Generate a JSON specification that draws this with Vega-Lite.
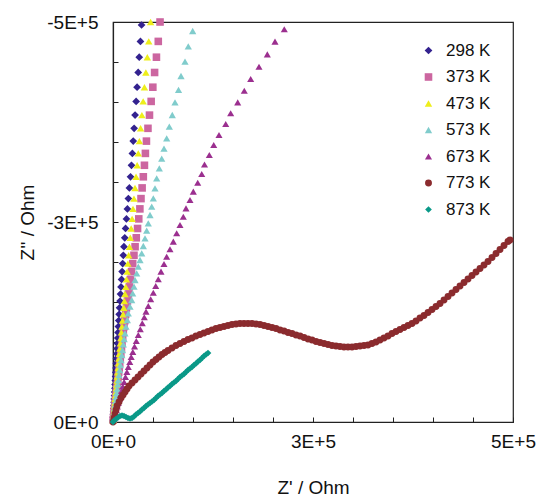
{
  "$schema": "https://vega.github.io/schema/vega-lite/v6.json",
  "width": 400,
  "height": 400,
  "autosize": {"type": "none"},
  "padding": {"left": 113, "top": 22, "right": 28, "bottom": 75},
  "background": "white",
  "config": {
    "view": {"stroke": "#222", "strokeWidth": 1.2},
    "font": "Liberation Sans"
  },
  "datasets": {
    "imp": [
      {"s":"298 K","x":35700,"y":-496250},{"s":"298 K","x":34300,"y":-475750},{"s":"298 K","x":32800,"y":-456000},{"s":"298 K","x":31500,"y":-436900},{"s":"298 K","x":30100,"y":-418500},{"s":"298 K","x":28900,"y":-400750},{"s":"298 K","x":27600,"y":-383600},{"s":"298 K","x":26400,"y":-367100},{"s":"298 K","x":25300,"y":-351100},{"s":"298 K","x":24200,"y":-335750},{"s":"298 K","x":23100,"y":-320900},{"s":"298 K","x":21900,"y":-306500},{"s":"298 K","x":20500,"y":-292600},{"s":"298 K","x":19200,"y":-279250},{"s":"298 K","x":18000,"y":-266400},{"s":"298 K","x":16800,"y":-253900},{"s":"298 K","x":15700,"y":-241900},{"s":"298 K","x":14700,"y":-230250},{"s":"298 K","x":13700,"y":-219100},{"s":"298 K","x":12900,"y":-208400},{"s":"298 K","x":12100,"y":-198000},{"s":"298 K","x":11400,"y":-188000},{"s":"298 K","x":10700,"y":-178250},{"s":"298 K","x":10000,"y":-168900},{"s":"298 K","x":9400,"y":-159900},{"s":"298 K","x":8800,"y":-151100},{"s":"298 K","x":8200,"y":-142750},{"s":"298 K","x":7700,"y":-134600},{"s":"298 K","x":7200,"y":-126750},{"s":"298 K","x":6700,"y":-119250},{"s":"298 K","x":6300,"y":-112000},{"s":"298 K","x":5900,"y":-105000},{"s":"298 K","x":5500,"y":-98250},{"s":"298 K","x":5100,"y":-91750},{"s":"298 K","x":4800,"y":-85400},{"s":"298 K","x":4400,"y":-79250},{"s":"298 K","x":4100,"y":-73400},{"s":"298 K","x":3800,"y":-67600},{"s":"298 K","x":3500,"y":-62100},{"s":"298 K","x":3200,"y":-56900},{"s":"298 K","x":2900,"y":-51750},{"s":"298 K","x":2600,"y":-46900},{"s":"298 K","x":2400,"y":-42100},{"s":"298 K","x":2100,"y":-37500},{"s":"298 K","x":1900,"y":-33100},{"s":"298 K","x":1600,"y":-28900},{"s":"298 K","x":1400,"y":-24750},{"s":"298 K","x":1200,"y":-20750},{"s":"298 K","x":950,"y":-16900},{"s":"298 K","x":730,"y":-13100},{"s":"298 K","x":530,"y":-9500},{"s":"298 K","x":340,"y":-6000},{"s":"298 K","x":150,"y":-2600},

      {"s":"373 K","x":58800,"y":-500000},{"s":"373 K","x":56600,"y":-475750},{"s":"373 K","x":54300,"y":-456000},{"s":"373 K","x":52000,"y":-436900},{"s":"373 K","x":49800,"y":-418500},{"s":"373 K","x":47700,"y":-400750},{"s":"373 K","x":45600,"y":-383600},{"s":"373 K","x":43700,"y":-367100},{"s":"373 K","x":41800,"y":-351100},{"s":"373 K","x":40500,"y":-335750},{"s":"373 K","x":39300,"y":-320900},{"s":"373 K","x":37900,"y":-306500},{"s":"373 K","x":36400,"y":-292600},{"s":"373 K","x":35000,"y":-279250},{"s":"373 K","x":33600,"y":-266400},{"s":"373 K","x":32200,"y":-253900},{"s":"373 K","x":30700,"y":-241900},{"s":"373 K","x":29100,"y":-230250},{"s":"373 K","x":27600,"y":-219100},{"s":"373 K","x":26200,"y":-208400},{"s":"373 K","x":24600,"y":-198000},{"s":"373 K","x":23200,"y":-188000},{"s":"373 K","x":21800,"y":-178250},{"s":"373 K","x":20400,"y":-168900},{"s":"373 K","x":19200,"y":-159900},{"s":"373 K","x":18000,"y":-151100},{"s":"373 K","x":16800,"y":-142750},{"s":"373 K","x":15800,"y":-134600},{"s":"373 K","x":14800,"y":-126750},{"s":"373 K","x":13800,"y":-119250},{"s":"373 K","x":12900,"y":-112000},{"s":"373 K","x":12100,"y":-105000},{"s":"373 K","x":11300,"y":-98250},{"s":"373 K","x":10600,"y":-91750},{"s":"373 K","x":9800,"y":-85400},{"s":"373 K","x":9100,"y":-79250},{"s":"373 K","x":8400,"y":-73400},{"s":"373 K","x":7800,"y":-67600},{"s":"373 K","x":7100,"y":-62100},{"s":"373 K","x":6500,"y":-56900},{"s":"373 K","x":6000,"y":-51750},{"s":"373 K","x":5400,"y":-46900},{"s":"373 K","x":4800,"y":-42100},{"s":"373 K","x":4300,"y":-37500},{"s":"373 K","x":3800,"y":-33100},{"s":"373 K","x":3300,"y":-28900},{"s":"373 K","x":2800,"y":-24750},{"s":"373 K","x":2400,"y":-20750},{"s":"373 K","x":1900,"y":-16900},{"s":"373 K","x":1500,"y":-13100},{"s":"373 K","x":1100,"y":-9500},{"s":"373 K","x":700,"y":-6000},{"s":"373 K","x":300,"y":-2600},

      {"s":"473 K","x":47000,"y":-500000},{"s":"473 K","x":44700,"y":-475750},{"s":"473 K","x":42900,"y":-456000},{"s":"473 K","x":41100,"y":-436900},{"s":"473 K","x":39300,"y":-418500},{"s":"473 K","x":37700,"y":-400750},{"s":"473 K","x":36100,"y":-383600},{"s":"473 K","x":34500,"y":-367100},{"s":"473 K","x":33000,"y":-351100},{"s":"473 K","x":31600,"y":-335750},{"s":"473 K","x":30200,"y":-320900},{"s":"473 K","x":28800,"y":-306500},{"s":"473 K","x":27500,"y":-292600},{"s":"473 K","x":26200,"y":-279250},{"s":"473 K","x":25000,"y":-266400},{"s":"473 K","x":23900,"y":-253900},{"s":"473 K","x":22700,"y":-241900},{"s":"473 K","x":21600,"y":-230250},{"s":"473 K","x":20600,"y":-219100},{"s":"473 K","x":19600,"y":-208400},{"s":"473 K","x":18600,"y":-198000},{"s":"473 K","x":17700,"y":-188000},{"s":"473 K","x":16800,"y":-178250},{"s":"473 K","x":15900,"y":-168900},{"s":"473 K","x":15000,"y":-159900},{"s":"473 K","x":14200,"y":-151100},{"s":"473 K","x":13400,"y":-142750},{"s":"473 K","x":12700,"y":-134600},{"s":"473 K","x":11900,"y":-126750},{"s":"473 K","x":11200,"y":-119250},{"s":"473 K","x":10500,"y":-112000},{"s":"473 K","x":9900,"y":-105000},{"s":"473 K","x":9200,"y":-98250},{"s":"473 K","x":8600,"y":-91750},{"s":"473 K","x":8000,"y":-85400},{"s":"473 K","x":7400,"y":-79250},{"s":"473 K","x":6900,"y":-73400},{"s":"473 K","x":6400,"y":-67600},{"s":"473 K","x":5800,"y":-62100},{"s":"473 K","x":5300,"y":-56900},{"s":"473 K","x":4900,"y":-51750},{"s":"473 K","x":4400,"y":-46900},{"s":"473 K","x":4000,"y":-42100},{"s":"473 K","x":3500,"y":-37500},{"s":"473 K","x":3100,"y":-33100},{"s":"473 K","x":2700,"y":-28900},{"s":"473 K","x":2300,"y":-24750},{"s":"473 K","x":1950,"y":-20750},{"s":"473 K","x":1600,"y":-16900},{"s":"473 K","x":1200,"y":-13100},{"s":"473 K","x":900,"y":-9500},{"s":"473 K","x":560,"y":-6000},{"s":"473 K","x":240,"y":-2600},

      {"s":"573 K","x":99600,"y":-488750},{"s":"573 K","x":94100,"y":-469400},{"s":"573 K","x":90000,"y":-450400},{"s":"573 K","x":85000,"y":-432500},{"s":"573 K","x":81900,"y":-415250},{"s":"573 K","x":77500,"y":-399400},{"s":"573 K","x":74100,"y":-383750},{"s":"573 K","x":70400,"y":-369100},{"s":"573 K","x":67100,"y":-354600},{"s":"573 K","x":63750,"y":-341600},{"s":"573 K","x":60900,"y":-329100},{"s":"573 K","x":57900,"y":-317100},{"s":"573 K","x":54600,"y":-304600},{"s":"573 K","x":52500,"y":-292100},{"s":"573 K","x":50400,"y":-279600},{"s":"573 K","x":48400,"y":-269100},{"s":"573 K","x":46250,"y":-258750},{"s":"573 K","x":44100,"y":-248400},{"s":"573 K","x":42100,"y":-239100},{"s":"573 K","x":40000,"y":-229600},{"s":"573 K","x":37900,"y":-220000},{"s":"573 K","x":35900,"y":-210900},{"s":"573 K","x":33750,"y":-202500},{"s":"573 K","x":31600,"y":-194100},{"s":"573 K","x":29600,"y":-185900},{"s":"573 K","x":27500,"y":-177500},{"s":"573 K","x":26250,"y":-169100},{"s":"573 K","x":24600,"y":-160900},{"s":"573 K","x":23400,"y":-152500},{"s":"573 K","x":21250,"y":-144100},{"s":"573 K","x":19100,"y":-135900},{"s":"573 K","x":17900,"y":-127500},{"s":"573 K","x":16250,"y":-119100},{"s":"573 K","x":15000,"y":-110900},{"s":"573 K","x":13900,"y":-103750},{"s":"573 K","x":12900,"y":-96900},{"s":"573 K","x":11900,"y":-90000},{"s":"573 K","x":11000,"y":-83750},{"s":"573 K","x":10100,"y":-77500},{"s":"573 K","x":9250,"y":-71250},{"s":"573 K","x":8400,"y":-65000},{"s":"573 K","x":7500,"y":-58750},{"s":"573 K","x":6750,"y":-52500},{"s":"573 K","x":6000,"y":-46900},{"s":"573 K","x":5250,"y":-41250},{"s":"573 K","x":4600,"y":-36250},{"s":"573 K","x":4000,"y":-31250},{"s":"573 K","x":3400,"y":-26250},{"s":"573 K","x":2750,"y":-21250},{"s":"573 K","x":2100,"y":-16900},{"s":"573 K","x":1600,"y":-12500},{"s":"573 K","x":1100,"y":-8750},{"s":"573 K","x":600,"y":-5000},

      {"s":"673 K","x":214100,"y":-490900},{"s":"673 K","x":202500,"y":-475400},{"s":"673 K","x":192900,"y":-459600},{"s":"673 K","x":182500,"y":-444100},{"s":"673 K","x":172100,"y":-428750},{"s":"673 K","x":164100,"y":-414100},{"s":"673 K","x":155900,"y":-399600},{"s":"673 K","x":147100,"y":-385900},{"s":"673 K","x":140900,"y":-372500},{"s":"673 K","x":132500,"y":-358750},{"s":"673 K","x":125900,"y":-346250},{"s":"673 K","x":120400,"y":-333750},{"s":"673 K","x":114400,"y":-321900},{"s":"673 K","x":110900,"y":-310000},{"s":"673 K","x":105900,"y":-299100},{"s":"673 K","x":100400,"y":-287900},{"s":"673 K","x":96250,"y":-277500},{"s":"673 K","x":91250,"y":-267100},{"s":"673 K","x":87900,"y":-256600},{"s":"673 K","x":83750,"y":-246250},{"s":"673 K","x":79600,"y":-235900},{"s":"673 K","x":75400,"y":-225400},{"s":"673 K","x":71250,"y":-215900},{"s":"673 K","x":67100,"y":-206600},{"s":"673 K","x":63750,"y":-197500},{"s":"673 K","x":60000,"y":-187900},{"s":"673 K","x":56600,"y":-178400},{"s":"673 K","x":53400,"y":-170000},{"s":"673 K","x":50400,"y":-161600},{"s":"673 K","x":47100,"y":-153400},{"s":"673 K","x":44100,"y":-145000},{"s":"673 K","x":41250,"y":-137900},{"s":"673 K","x":39100,"y":-130900},{"s":"673 K","x":36600,"y":-123400},{"s":"673 K","x":34100,"y":-115900},{"s":"673 K","x":31600,"y":-108750},{"s":"673 K","x":29100,"y":-101250},{"s":"673 K","x":26900,"y":-94400},{"s":"673 K","x":24750,"y":-87500},{"s":"673 K","x":22750,"y":-81250},{"s":"673 K","x":21000,"y":-75000},{"s":"673 K","x":19100,"y":-68750},{"s":"673 K","x":17400,"y":-62500},{"s":"673 K","x":15600,"y":-56250},{"s":"673 K","x":13900,"y":-50000},{"s":"673 K","x":12250,"y":-44400},{"s":"673 K","x":10750,"y":-38750},{"s":"673 K","x":9400,"y":-33750},{"s":"673 K","x":8000,"y":-28750},{"s":"673 K","x":6600,"y":-23750},{"s":"673 K","x":5400,"y":-19400},{"s":"673 K","x":4100,"y":-15000},{"s":"673 K","x":3100,"y":-11250},{"s":"673 K","x":2100,"y":-7500},{"s":"673 K","x":1000,"y":-3750},

      {"s":"773 K","x":0,"y":0},{"s":"773 K","x":1250,"y":-5000},{"s":"773 K","x":2500,"y":-10000},{"s":"773 K","x":3750,"y":-15000},{"s":"773 K","x":5000,"y":-20000},{"s":"773 K","x":7500,"y":-25000},{"s":"773 K","x":10000,"y":-30000},{"s":"773 K","x":12500,"y":-33750},{"s":"773 K","x":15000,"y":-37500},{"s":"773 K","x":17500,"y":-41250},{"s":"773 K","x":20000,"y":-45000},{"s":"773 K","x":23750,"y":-48750},{"s":"773 K","x":27500,"y":-52500},{"s":"773 K","x":31250,"y":-56250},{"s":"773 K","x":35000,"y":-60000},{"s":"773 K","x":38750,"y":-63750},{"s":"773 K","x":42500,"y":-67500},{"s":"773 K","x":46250,"y":-71250},{"s":"773 K","x":50000,"y":-75000},{"s":"773 K","x":53750,"y":-78125},{"s":"773 K","x":57500,"y":-81250},{"s":"773 K","x":61250,"y":-84375},{"s":"773 K","x":65000,"y":-86875},{"s":"773 K","x":68750,"y":-89375},{"s":"773 K","x":73750,"y":-92500},{"s":"773 K","x":78750,"y":-95625},{"s":"773 K","x":83750,"y":-98125},{"s":"773 K","x":88750,"y":-100625},{"s":"773 K","x":93750,"y":-103125},{"s":"773 K","x":98750,"y":-105000},{"s":"773 K","x":103750,"y":-107500},{"s":"773 K","x":108750,"y":-109375},{"s":"773 K","x":113750,"y":-111250},{"s":"773 K","x":118750,"y":-113125},{"s":"773 K","x":123750,"y":-115000},{"s":"773 K","x":128750,"y":-116875},{"s":"773 K","x":133750,"y":-118125},{"s":"773 K","x":138750,"y":-119375},{"s":"773 K","x":143750,"y":-120625},{"s":"773 K","x":148750,"y":-121875},{"s":"773 K","x":153750,"y":-122500},{"s":"773 K","x":158750,"y":-123125},{"s":"773 K","x":163750,"y":-123125},{"s":"773 K","x":168750,"y":-123125},{"s":"773 K","x":173750,"y":-123125},{"s":"773 K","x":178750,"y":-122500},{"s":"773 K","x":183750,"y":-121875},{"s":"773 K","x":188750,"y":-120625},{"s":"773 K","x":193750,"y":-119375},{"s":"773 K","x":198750,"y":-118125},{"s":"773 K","x":203750,"y":-116875},{"s":"773 K","x":208750,"y":-115000},{"s":"773 K","x":213750,"y":-113750},{"s":"773 K","x":218750,"y":-111875},{"s":"773 K","x":223750,"y":-110625},{"s":"773 K","x":228750,"y":-108750},{"s":"773 K","x":233750,"y":-107500},{"s":"773 K","x":238750,"y":-105625},{"s":"773 K","x":243750,"y":-103750},{"s":"773 K","x":248750,"y":-102500},{"s":"773 K","x":253750,"y":-100625},{"s":"773 K","x":258750,"y":-99375},{"s":"773 K","x":263750,"y":-98125},{"s":"773 K","x":268750,"y":-96875},{"s":"773 K","x":273750,"y":-95625},{"s":"773 K","x":278750,"y":-95000},{"s":"773 K","x":283750,"y":-94375},{"s":"773 K","x":288750,"y":-93750},{"s":"773 K","x":293750,"y":-93750},{"s":"773 K","x":298750,"y":-93750},{"s":"773 K","x":303750,"y":-94375},{"s":"773 K","x":308750,"y":-95000},{"s":"773 K","x":313750,"y":-95625},{"s":"773 K","x":318750,"y":-96250},{"s":"773 K","x":323750,"y":-98125},{"s":"773 K","x":328750,"y":-100000},{"s":"773 K","x":333750,"y":-102500},{"s":"773 K","x":338750,"y":-105000},{"s":"773 K","x":343750,"y":-107500},{"s":"773 K","x":348750,"y":-110625},{"s":"773 K","x":353750,"y":-113125},{"s":"773 K","x":358750,"y":-115625},{"s":"773 K","x":363750,"y":-118125},{"s":"773 K","x":368750,"y":-120625},{"s":"773 K","x":373750,"y":-123125},{"s":"773 K","x":378750,"y":-126250},{"s":"773 K","x":383750,"y":-130000},{"s":"773 K","x":388750,"y":-133125},{"s":"773 K","x":393750,"y":-136875},{"s":"773 K","x":398750,"y":-140625},{"s":"773 K","x":403750,"y":-144375},{"s":"773 K","x":408750,"y":-148125},{"s":"773 K","x":413750,"y":-152500},{"s":"773 K","x":418750,"y":-156875},{"s":"773 K","x":423750,"y":-161250},{"s":"773 K","x":428750,"y":-165625},{"s":"773 K","x":433750,"y":-170000},{"s":"773 K","x":438750,"y":-174375},{"s":"773 K","x":443750,"y":-178750},{"s":"773 K","x":448750,"y":-183125},{"s":"773 K","x":453750,"y":-187500},{"s":"773 K","x":458750,"y":-191875},{"s":"773 K","x":463750,"y":-196250},{"s":"773 K","x":468750,"y":-200625},{"s":"773 K","x":473750,"y":-205625},{"s":"773 K","x":478750,"y":-210625},{"s":"773 K","x":483750,"y":-215625},{"s":"773 K","x":488750,"y":-220625},{"s":"773 K","x":493750,"y":-225625},{"s":"773 K","x":496250,"y":-227500},

      {"s":"873 K","x":0,"y":0},{"s":"873 K","x":1250,"y":-1875},{"s":"873 K","x":3750,"y":-3750},{"s":"873 K","x":6250,"y":-5625},{"s":"873 K","x":8750,"y":-7500},{"s":"873 K","x":11250,"y":-8125},{"s":"873 K","x":13750,"y":-7500},{"s":"873 K","x":16250,"y":-6250},{"s":"873 K","x":18750,"y":-5000},{"s":"873 K","x":21250,"y":-4375},{"s":"873 K","x":23750,"y":-5000},{"s":"873 K","x":26250,"y":-6875},{"s":"873 K","x":28750,"y":-9375},{"s":"873 K","x":31250,"y":-11250},{"s":"873 K","x":33750,"y":-13125},{"s":"873 K","x":36250,"y":-15625},{"s":"873 K","x":38750,"y":-17500},{"s":"873 K","x":41250,"y":-20000},{"s":"873 K","x":43750,"y":-21875},{"s":"873 K","x":46250,"y":-23750},{"s":"873 K","x":48750,"y":-25625},{"s":"873 K","x":51250,"y":-27500},{"s":"873 K","x":53750,"y":-30000},{"s":"873 K","x":56250,"y":-32500},{"s":"873 K","x":58750,"y":-34375},{"s":"873 K","x":61250,"y":-36250},{"s":"873 K","x":63750,"y":-38750},{"s":"873 K","x":66250,"y":-40625},{"s":"873 K","x":68750,"y":-43125},{"s":"873 K","x":71250,"y":-45000},{"s":"873 K","x":73750,"y":-47500},{"s":"873 K","x":76250,"y":-49375},{"s":"873 K","x":78750,"y":-51250},{"s":"873 K","x":81250,"y":-53750},{"s":"873 K","x":83750,"y":-56250},{"s":"873 K","x":86250,"y":-58125},{"s":"873 K","x":88750,"y":-60000},{"s":"873 K","x":91250,"y":-62500},{"s":"873 K","x":93750,"y":-65000},{"s":"873 K","x":96250,"y":-66875},{"s":"873 K","x":98750,"y":-68750},{"s":"873 K","x":101250,"y":-71250},{"s":"873 K","x":103750,"y":-73125},{"s":"873 K","x":106250,"y":-75625},{"s":"873 K","x":108750,"y":-77500},{"s":"873 K","x":111250,"y":-80000},{"s":"873 K","x":113750,"y":-82500},{"s":"873 K","x":116250,"y":-84375},{"s":"873 K","x":118750,"y":-86250}
    ]
  },
  "data": {"name": "imp"},
  "mark": {"type": "point", "filled": true, "opacity": 1},
  "encoding": {
    "x": {
      "field": "x", "type": "quantitative",
      "scale": {"domain": [0, 500000], "nice": false},
      "axis": {
        "title": "Z' / Ohm",
        "values": [0, 50000, 100000, 150000, 200000, 250000, 300000, 350000, 400000, 450000, 500000],
        "labelExpr": "datum.value % 250000 == 0 ? replace(format(datum.value, '.0e'), 'e', 'E') : ''",
        "grid": false, "labelOverlap": false, "labelFlush": false,
        "tickSize": -5, "tickColor": "#222", "domainColor": "#222", "domainWidth": 1.2,
        "labelFontSize": 19, "labelColor": "#111", "labelPadding": 15,
        "titleFontSize": 19, "titleFontWeight": "normal", "titleColor": "#111", "titlePadding": 27
      }
    },
    "y": {
      "field": "y", "type": "quantitative",
      "scale": {"domain": [0, -500000], "nice": false},
      "axis": {
        "title": "Z'' / Ohm",
        "values": [0, -50000, -100000, -150000, -200000, -250000, -300000, -350000, -400000, -450000, -500000],
        "labelExpr": "datum.value % 250000 == 0 ? (datum.value < 0 ? '-' : '') + replace(format(abs(datum.value), '.0e'), 'e', 'E') : ''",
        "grid": false, "labelOverlap": false, "labelFlush": false,
        "tickSize": -5, "tickColor": "#222", "domainColor": "#222", "domainWidth": 1.2,
        "labelFontSize": 19, "labelColor": "#111", "labelPadding": 20,
        "titleFontSize": 19, "titleFontWeight": "normal", "titleColor": "#111", "titlePadding": 9
      }
    },
    "color": {
      "field": "s", "type": "nominal",
      "scale": {
        "domain": ["298 K", "373 K", "473 K", "573 K", "673 K", "773 K", "873 K"],
        "range": ["#33228f", "#cc66a0", "#eeee1a", "#80cccc", "#9b2f8f", "#8b2b2e", "#0a9988"]
      },
      "legend": {
        "title": null, "orient": "none", "legendX": 307, "legendY": 20,
        "padding": 0, "rowPadding": 8.5, "labelFontSize": 17, "labelColor": "#111",
        "symbolSize": 40, "labelOffset": 9, "symbolStrokeWidth": 0
      }
    },
    "shape": {
      "field": "s", "type": "nominal",
      "scale": {
        "domain": ["298 K", "373 K", "473 K", "573 K", "673 K", "773 K", "873 K"],
        "range": ["diamond", "square", "triangle-up", "triangle-up", "triangle-up", "circle", "diamond"]
      }
    },
    "size": {
      "field": "s", "type": "nominal",
      "scale": {
        "domain": ["298 K", "373 K", "473 K", "573 K", "673 K", "773 K", "873 K"],
        "range": [60, 45, 65, 70, 75, 90, 70]
      },
      "legend": null
    }
  }
}
